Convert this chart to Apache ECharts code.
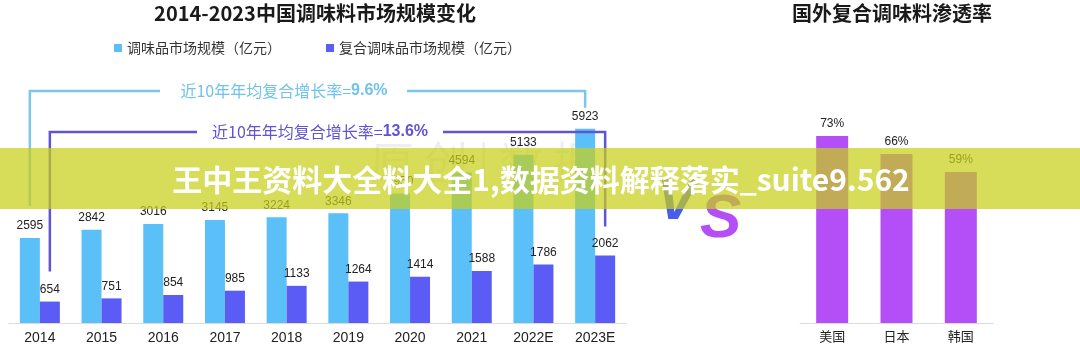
<!DOCTYPE html>
<html>
<head>
<meta charset="utf-8">
<script src="https://cdn.jsdelivr.net/npm/echarts@6/dist/echarts.min.js"></script>
<style>
html,body{margin:0;padding:0;background:#fff;}
#c{width:1080px;height:357px;}
</style>
</head>
<body>
<div id="c"></div>
<script>
const years = ['2014','2015','2016','2017','2018','2019','2020','2021','2022E','2023E'];
const marketSize = [2595,2842,3016,3145,3224,3346,3950,4594,5133,5923];
const compoundSize = [654,751,854,985,1133,1264,1414,1588,1786,2062];
const countries = ['美国','日本','韩国'];
const penetration = [73,66,59];
const seriesNames = ['调味品市场规模（亿元）','复合调味品市场规模（亿元）'];
const titleLeft = '2014-2023中国调味料市场规模变化';
const titleRight = '国外复合调味料渗透率';
const cagrMarket = '9.6%';
const cagrCompound = '13.6%';
const bannerText = '王中王资料大全料大全1,数据资料解释落实_suite9.562';

const NUMF = '"Liberation Sans","Noto Sans CJK SC",sans-serif';
const CJKF = '"Noto Sans CJK SC","Noto Sans",sans-serif';
const C_BLUE = '#5bc0f8', C_PURP = '#5b5bf5', C_VIO = '#b44ff8';
const C_LBLUE = '#7cc6ea', C_LPURP = '#5f54d2';

const chart = echarts.init(document.getElementById('c'));
chart.setOption({
  animation: false,
  backgroundColor: '#fff',
  title: [
    {text: titleLeft, left: 315, top: 3, textAlign: 'center', padding: 0,
     textStyle: {fontFamily: CJKF, fontSize: 20, fontWeight: 'bold', color: '#1a1a1a'}},
    {text: titleRight, left: 892, top: 3, textAlign: 'center', padding: 0,
     textStyle: {fontFamily: CJKF, fontSize: 20, fontWeight: 'bold', color: '#1a1a1a'}}
  ],
  legend: {
    data: seriesNames, left: 114, top: 41, padding: 0, itemGap: 45,
    itemWidth: 8, itemHeight: 8, icon: 'rect',
    textStyle: {fontFamily: CJKF, fontSize: 14, color: '#333', padding: [0,0,0,0]}
  },
  grid: [
    {left: 9, right: 454, top: 93.5, bottom: 34},
    {left: 800, right: 87, top: 67, bottom: 34}
  ],
  xAxis: [
    {type: 'category', gridIndex: 0, data: years,
     axisLine: {lineStyle: {color: '#dcdcdc', width: 1}}, axisTick: {show: false},
     axisLabel: {fontFamily: NUMF, fontSize: 14, color: '#222', margin: 8}},
    {type: 'category', gridIndex: 1, data: countries,
     axisLine: {lineStyle: {color: '#dcdcdc', width: 1}}, axisTick: {show: false},
     axisLabel: {fontFamily: CJKF, fontSize: 13, color: '#222', margin: 7}}
  ],
  yAxis: [
    {type: 'value', gridIndex: 0, min: 0, max: 7000, show: false},
    {type: 'value', gridIndex: 1, min: 0, max: 100, show: false}
  ],
  series: [
    {name: seriesNames[0], type: 'bar', xAxisIndex: 0, yAxisIndex: 0, data: marketSize,
     barWidth: 20, barGap: '0%', itemStyle: {color: C_BLUE},
     label: {show: true, position: 'top', distance: 6, fontFamily: NUMF, fontSize: 12, color: '#222'}},
    {name: seriesNames[1], type: 'bar', xAxisIndex: 0, yAxisIndex: 0, data: compoundSize,
     barWidth: 20, barGap: '0%', itemStyle: {color: C_PURP},
     label: {show: true, position: 'top', distance: 6, fontFamily: NUMF, fontSize: 12, color: '#222'}},
    {name: 'penetration', type: 'bar', xAxisIndex: 1, yAxisIndex: 1, data: penetration,
     barWidth: 32, itemStyle: {color: C_VIO},
     label: {show: true, position: 'top', distance: 6, fontFamily: NUMF, fontSize: 12, color: '#222', formatter: '{c}%'}}
  ]
});

function px(i, v) { return chart.convertToPixel({xAxisIndex: 0, yAxisIndex: 0}, [i, v]); }
const last = years.length - 1;
const pB0 = px(0, marketSize[0]), pBn = px(last, marketSize[last]);
const pP0 = px(0, compoundSize[0]), pPn = px(last, compoundSize[last]);
const xB0 = pB0[0] - 10, xBn = pBn[0] - 10, xP0 = pP0[0] + 10, xPn = pPn[0] + 10;
const yB = 91, yP = 132;

chart.setOption({
  graphic: [
    // faint watermark
    {type: 'text', z: 1, left: 370, top: 140, silent: true,
     style: {text: '原 创 | 数 据', font: '44px "Noto Sans CJK SC"', fill: 'rgba(120,120,120,0.13)'}},
    {type: 'text', z: 1, x: 657, y: 232, silent: true,
     style: {text: 'V', font: 'italic bold 58px "Liberation Sans"', fill: '#4a5bf0', textVerticalAlign: 'bottom'}},
    {type: 'text', z: 1, x: 700, y: 251, silent: true,
     style: {text: 'S', font: 'italic bold 62px "Liberation Sans"', fill: C_VIO, textVerticalAlign: 'bottom'}},
    // brackets
    {type: 'polyline', z: 50, shape: {points: [[xB0, pB0[1]-32], [xB0, yB], [160, yB]]},
     style: {stroke: C_LBLUE, lineWidth: 2.5, fill: null}},
    {type: 'polyline', z: 50, shape: {points: [[407, yB], [xBn, yB], [xBn, pBn[1]-21]]},
     style: {stroke: C_LBLUE, lineWidth: 2.5, fill: null}},
    {type: 'text', z: 50, x: 284, y: yB,
     style: {text: '{a|近10年年均复合增长率=}{b|' + cagrMarket + '}', textAlign: 'center', textVerticalAlign: 'middle',
       rich: {a: {fontFamily: CJKF, fontSize: 16, fill: '#6fc3ec', color: '#6fc3ec'},
              b: {fontFamily: NUMF, fontSize: 16, fontWeight: 'bold', fill: '#6fc3ec', color: '#6fc3ec'}}}},
    {type: 'polyline', z: 50, shape: {points: [[xP0, pP0[1]-30], [xP0, yP], [197, yP]]},
     style: {stroke: C_LPURP, lineWidth: 2.5, fill: null}},
    {type: 'polyline', z: 50, shape: {points: [[443, yP], [xPn, yP], [xPn, pPn[1]-29]]},
     style: {stroke: C_LPURP, lineWidth: 2.5, fill: null}},
    {type: 'text', z: 50, x: 320, y: yP,
     style: {text: '{a|近10年年均复合增长率=}{b|' + cagrCompound + '}', textAlign: 'center', textVerticalAlign: 'middle',
       rich: {a: {fontFamily: CJKF, fontSize: 16, fill: C_LPURP, color: C_LPURP},
              b: {fontFamily: NUMF, fontSize: 16, fontWeight: 'bold', fill: C_LPURP, color: C_LPURP}}}},
    // banner
    {type: 'rect', z: 100, shape: {x: 0, y: 148, width: 1080, height: 61},
     style: {fill: 'rgba(200,207,25,0.72)'}},
    {type: 'text', z: 101, x: 541, y: 180,
     style: {text: bannerText, textAlign: 'center', textVerticalAlign: 'middle',
       font: 'bold 30px "Noto Sans CJK SC"', fill: '#ffffff'}}
  ]
});
</script>
</body>
</html>
